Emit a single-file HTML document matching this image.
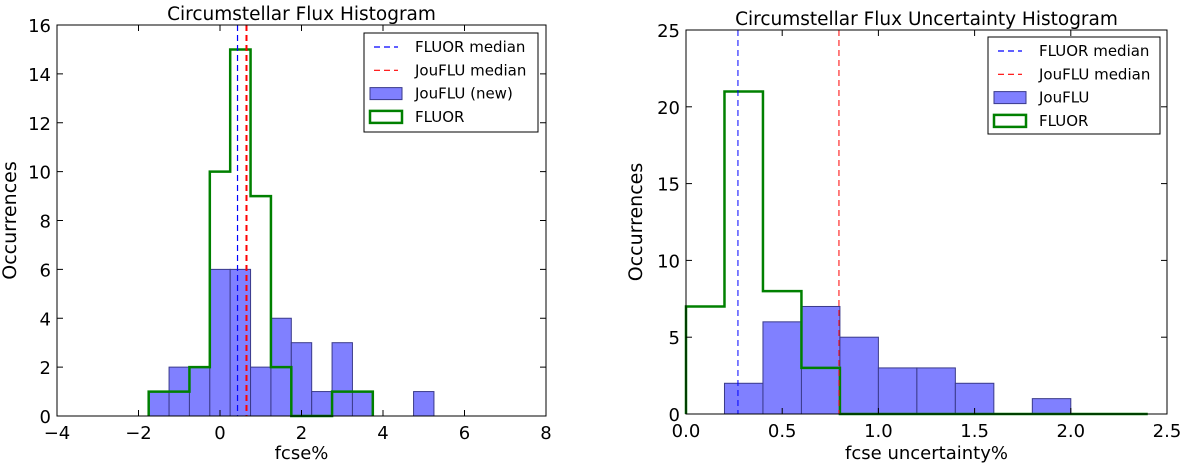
<!DOCTYPE html>
<html><head><meta charset="utf-8"><style>
body{margin:0;background:#fff;}
svg{display:block;font-family:"DejaVu Sans","Liberation Sans",sans-serif;}
</style></head><body>
<svg id="s" width="1200" height="464"></svg>
<script>
// Left chart data
const leftJouEdgesStart = -1.75;
const leftJouCounts = [1,2,2,6,6,2,4,3,1,3,1,0,0,1];
const leftFluorCounts = [1,1,2,10,15,9,2,0,0,1,1];
const leftBinWidth = 0.5;
const leftMedians = [0.43, 0.65];
const leftXTicks = [-4,-2,0,2,4,6,8];
const leftYTicks = [0,2,4,6,8,10,12,14,16];
// Right chart data
const rightJouStart = 0.2;
const rightJouCounts = [2,6,7,5,3,3,2,0,1];
const rightFluorStart = 0.0;
const rightFluorCounts = [7,21,8,3,0,0,0,0,0,0,0,0];
const rightBinWidth = 0.2;
const rightMedians = [0.27, 0.795];
const rightXTicks = [0.0,0.5,1.0,1.5,2.0,2.5];
const rightYTicks = [0,5,10,15,20,25];

const NS='http://www.w3.org/2000/svg';
const svg=document.getElementById('s');
function el(tag,attrs,parent,text){const e=document.createElementNS(NS,tag);for(const k in attrs)e.setAttribute(k,attrs[k]);if(text!==undefined)e.textContent=text;(parent||svg).appendChild(e);return e;}

function chart(o){
  const g=el('g',{});
  
  
  const X=v=>o.x0+(v-o.xmin)/(o.xmax-o.xmin)*(o.x1-o.x0);
  const Y=v=>o.y0-(v-o.ymin)/(o.ymax-o.ymin)*(o.y0-o.y1);
  o.jou.forEach((c,i)=>{ if(c<=0) return;
    const a=o.jouStart+i*o.bw;
    const r=el('rect',{x:X(a),y:Y(c),width:X(a+o.bw)-X(a),height:Y(0)-Y(c),fill:'#8080ff',stroke:'#3a3a8a','stroke-width':1},g);
    
    
  });
  let d='M'+X(o.flStart)+','+Y(0);
  o.fl.forEach((c,i)=>{const a=o.flStart+i*o.bw;d+=' L'+X(a)+','+Y(c)+' L'+X(a+o.bw)+','+Y(c);});
  d+=' L'+X(o.flStart+o.fl.length*o.bw)+','+Y(0);
  const p=el('path',{d:d,fill:'none',stroke:'#008000','stroke-width':2.5,'stroke-linejoin':'miter'},g);
  
  
  const mc=['#0000ff','#ff0000'];
  o.med.forEach((m,i)=>{
    const l=el('line',{x1:X(m),x2:X(m),y1:o.y1,y2:o.y0,stroke:mc[i],'stroke-width':o.medW[i],'stroke-dasharray':'6,4'},g);
    
    
  });
  const f=el('rect',{x:o.x0,y:o.y1,width:o.x1-o.x0,height:o.y0-o.y1,fill:'none',stroke:'#000','stroke-width':1},g);
  
  
  o.xt.forEach(t=>{
    el('line',{x1:X(t),x2:X(t),y1:o.y0,y2:o.y0-6,stroke:'#000'},g);
    el('line',{x1:X(t),x2:X(t),y1:o.y1,y2:o.y1+6,stroke:'#000'},g);
    const tx=el('text',{x:X(t),y:o.y0+23,'font-size':18,'text-anchor':'middle'},g,o.fmtX(t).replace('-','\u2212'));
    
    
  });
  o.yt.forEach(t=>{
    el('line',{x1:o.x0,x2:o.x0+6,y1:Y(t),y2:Y(t),stroke:'#000'},g);
    el('line',{x1:o.x1,x2:o.x1-6,y1:Y(t),y2:Y(t),stroke:'#000'},g);
    const tx=el('text',{x:o.x0-6,y:Y(t)+7,'font-size':18,'text-anchor':'end'},g,String(t));
    
    
  });
  const ti=el('text',{x:(o.x0+o.x1)/2,y:o.y1-5,'font-size':18.5,'text-anchor':'middle'},g,o.title);
  
  
  const xl=el('text',{x:(o.x0+o.x1)/2,y:459,'font-size':18,'text-anchor':'middle'},g,o.xlabel);
  
  
  const yl=el('text',{x:0,y:0,'font-size':19,'text-anchor':'middle',transform:'translate('+o.ylx+','+((o.y0+o.y1)/2)+') rotate(-90)'},g,'Occurrences');
  
  
  const L=o.leg;
  const lg=el('g',{},g);
  
  
  el('rect',{x:L.x,y:L.y,width:L.w,height:L.h,fill:'#fff',stroke:'#000','stroke-width':1},lg);
  const labels=['FLUOR median','JouFLU median',o.jouLabel,'FLUOR'];
  labels.forEach((s,i)=>{
    const cy=L.y+14+i*23.3;
    if(i<2) el('line',{x1:L.x+10,x2:L.x+34,y1:cy,y2:cy,stroke:mc[i],'stroke-width':1.2,'stroke-dasharray':'6,4'},lg);
    else if(i==2) el('rect',{x:L.x+6,y:cy-6,width:32,height:12,fill:'#8080ff',stroke:'#3a3a8a'},lg);
    else el('rect',{x:L.x+6,y:cy-6,width:32,height:12,fill:'none',stroke:'#008000','stroke-width':2.5},lg);
    const t=el('text',{x:L.x+51,y:cy+5,'font-size':15},lg,s);
    
    
  });
}
chart({name:'flux-histogram',x0:57,x1:546,y0:416,y1:25,xmin:-4,xmax:8,ymin:0,ymax:16,
  jou:leftJouCounts,jouStart:leftJouEdgesStart,fl:leftFluorCounts,flStart:-1.75,bw:leftBinWidth,
  med:leftMedians,medW:[1.2,2],xt:leftXTicks,yt:leftYTicks,fmtX:t=>String(t),
  title:'Circumstellar Flux Histogram',xlabel:'fcse%',ylx:16,
  leg:{x:364,y:33,w:174,h:99},jouLabel:'JouFLU (new)'});
chart({name:'uncertainty-histogram',x0:686,x1:1167,y0:414,y1:30,xmin:0,xmax:2.5,ymin:0,ymax:25,
  jou:rightJouCounts,jouStart:rightJouStart,fl:rightFluorCounts,flStart:rightFluorStart,bw:rightBinWidth,
  med:rightMedians,medW:[1,1],xt:rightXTicks,yt:rightYTicks,fmtX:t=>t.toFixed(1),
  title:'Circumstellar Flux Uncertainty Histogram',xlabel:'fcse uncertainty%',ylx:642,
  leg:{x:988,y:37,w:172,h:97},jouLabel:'JouFLU'});
</script>
</body></html>
